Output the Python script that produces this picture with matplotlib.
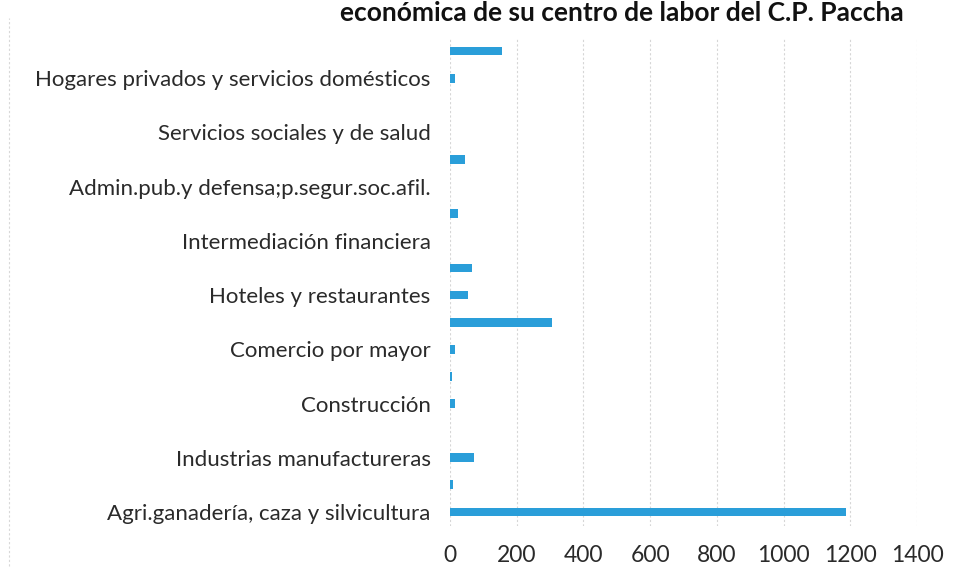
import matplotlib
matplotlib.use("Agg")
import matplotlib.pyplot as plt
from matplotlib.lines import Line2D

categories = [
    "Agri.ganadería, caza y silvicultura",
    "Explotación de minas y canteras",
    "Industrias manufactureras",
    "Suministro electricidad, gas y agua",
    "Construcción",
    "Venta, mant.y rep.veh.autom.y motoc.",
    "Comercio por mayor",
    "Comercio por menor",
    "Hoteles y restaurantes",
    "Transp.almac.y comunicaciones",
    "Intermediación financiera",
    "Activid.inmobil.empres.y alquileres",
    "Admin.pub.y defensa;p.segur.soc.afil.",
    "Enseñanza",
    "Servicios sociales y de salud",
    "Otras activ.serv.comun.soc.y personales",
    "Hogares privados y servicios domésticos",
    "No especificado",
]
values = [1188, 8, 73, 0, 16, 5, 14, 305, 54, 66, 0, 25, 0, 45, 0, 0, 15, 155]
xticks = [0, 200, 400, 600, 800, 1000, 1200, 1400]
title = "económica de su centro de labor del C.P. Paccha"

plt.rcParams['font.family'] = ['Lato', 'DejaVu Sans']

fig = plt.figure(figsize=(9.58, 5.84), dpi=100)
ax = fig.add_axes([450/958, 1-525.5/584, (917-450)/958, (525.5-37.5)/584])

pos = list(range(1, len(categories)+1))
ax.barh(pos, values, height=0.32, color='#2a9ed9', linewidth=0, zorder=3)

ax.set_xlim(0, 1400)
ax.set_ylim(0.5, len(categories)+0.5)
ax.set_xticks(xticks)
ax.set_xticklabels([str(t) for t in xticks], fontsize=16.5, color='#2a2a2a')
ax.set_yticks(pos)
ax.set_yticklabels([c if i % 2 == 0 else "" for i, c in enumerate(categories)],
                   fontsize=16, color='#2a2a2a')
ax.tick_params(axis='both', length=0)
ax.tick_params(axis='y', pad=14)
ax.tick_params(axis='x', pad=14)
for s in ax.spines.values():
    s.set_visible(False)
ax.grid(axis='x', color='#d6d6d6', linewidth=0.8, linestyle=(0, (2, 2)), zorder=0)

fig.text(622/958, 1-1/584, title, ha='center', va='top', fontsize=19,
         fontweight='bold', color='#111111')
fig.add_artist(Line2D([9/958, 9/958], [0.03, 0.97], transform=fig.transFigure,
                      color='#d8d8d8', linewidth=0.8, linestyle=(0, (2, 2))))

fig.savefig("out.png", dpi=100)
